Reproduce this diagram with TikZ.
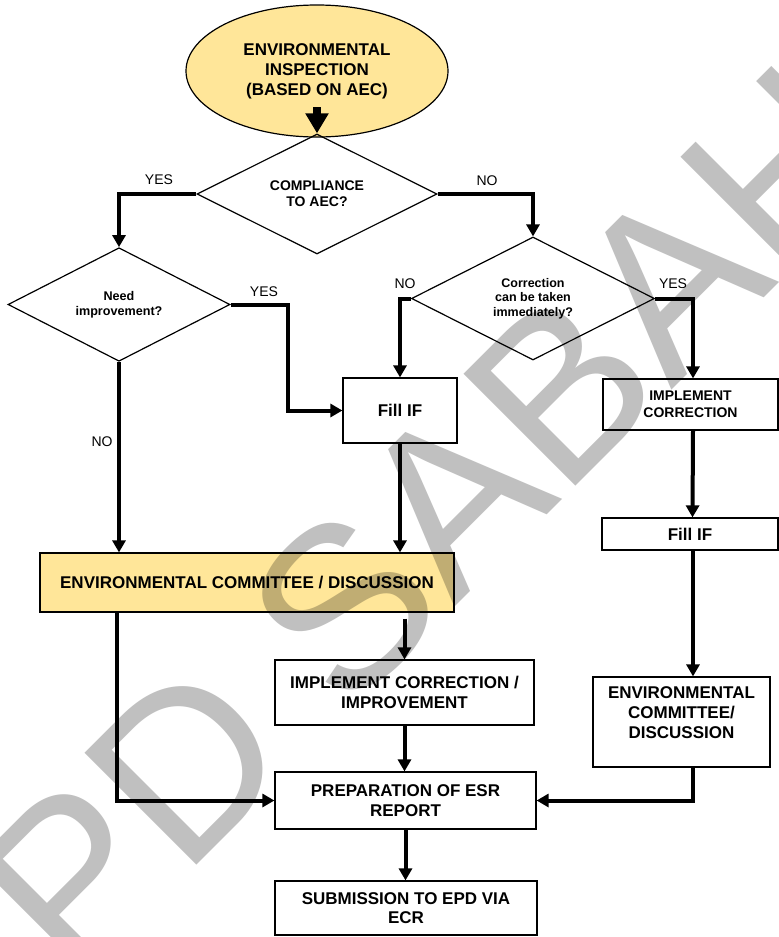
\documentclass[tikz,border=0pt]{standalone}
\usepackage{fontspec}
\setmainfont{Liberation Sans}
\usetikzlibrary{shapes.geometric,arrows.meta}
\definecolor{ylw}{HTML}{FFE699}
\definecolor{wmk}{HTML}{C0C0C0}
\begin{document}
\begin{tikzpicture}[x=1pt,y=-1pt,
  boxst/.style={draw, line width=1.2pt, rectangle, inner sep=0pt, align=center,
    font=\bfseries\fontsize{17}{19.5}\selectfont},
  diast/.style={draw, line width=1.2pt, diamond, inner sep=0pt, align=center},
  conn/.style={line width=4pt, -{Triangle[length=12pt,width=13pt]}},
  lbl/.style={font=\fontsize{14}{16}\selectfont, inner sep=0pt}]
\useasboundingbox (0,0) rectangle (779,937);
\fill[white] (0,0) rectangle (779,937);

% shapes
\node[draw, ellipse, line width=1.2pt, fill=ylw, minimum width=262, minimum height=132,
  inner sep=0pt, align=center, font=\bfseries\fontsize{17}{20}\selectfont] (ell) at (317,71)
  {ENVIRONMENTAL\\INSPECTION\\(BASED ON AEC)};
\node[diast, minimum width=240, minimum height=91, font=\bfseries\fontsize{14}{16}\selectfont]
  (dia1) at (317,194) {COMPLIANCE\\TO AEC?};
\node[diast, minimum width=222, minimum height=109, font=\bfseries\fontsize{12.6}{15}\selectfont]
  (dia2) at (119,304.5) {Need\\improvement?};
\node[diast, minimum width=243, minimum height=123, font=\bfseries\fontsize{12.5}{14.5}\selectfont]
  (dia3) at (533,298.5) {Correction\\can be taken\\immediately?};
\node[boxst, minimum width=114, minimum height=65] (fill1) at (400,410.5) {Fill IF};
\node[boxst, minimum width=175, minimum height=51, font=\bfseries\fontsize{14}{17}\selectfont]
  (impl) at (690.5,404.5) {IMPLEMENT\\CORRECTION};
\node[boxst, minimum width=176, minimum height=32] (fill2) at (690,534) {Fill IF};
\node[boxst, minimum width=177, minimum height=90] (ecdb) at (681.5,722) {};
\node[font=\bfseries\fontsize{17}{20}\selectfont, align=center, inner sep=0pt] (ecdt) at (681.5,713)
  {ENVIRONMENTAL\\COMMITTEE/\\DISCUSSION};
\node[boxst, fill=ylw, minimum width=414, minimum height=59] (ecd) at (247,582.5)
  {ENVIRONMENTAL COMMITTEE / DISCUSSION};
\node[boxst, minimum width=259, minimum height=65] (implc) at (404.5,692.5)
  {IMPLEMENT CORRECTION /\\IMPROVEMENT};
\node[boxst, minimum width=261, minimum height=57] (prep) at (405.5,800.5)
  {PREPARATION OF ESR\\REPORT};
\node[boxst, minimum width=262, minimum height=54] (sub) at (406,908)
  {SUBMISSION TO EPD VIA\\ECR};

% connectors
\draw[line width=8pt, -{Triangle[length=20pt,width=22pt]}] (317,107) -- (dia1.north);
\draw[conn] (dia1.west) -| (dia2.north);
\draw[conn] (dia1.east) -| (dia3.north);
\draw[conn] (dia2.east) -- ++(57,0) |- (fill1.west);
\draw[conn] (dia2.south) -- (dia2.south |- ecd.north);
\draw[conn] (dia3.west) -| (fill1.north);
\draw[conn] (dia3.east) -| ([xshift=2.5pt]impl.north);
\draw[conn] ([xshift=2.5pt]impl.south) -- ([xshift=2.5pt]fill2.north);
\draw[conn] ([xshift=3pt]fill2.south) -- ([xshift=3pt]fill2.south |- ecdb.north);
\draw[conn] ([xshift=3pt]fill2.south |- ecdb.south) |- (prep.east);
\draw[conn] (fill1.south) -- (fill1.south |- ecd.north);
\draw[conn, shorten <=6pt] (ecd.south -| implc.north) -- (implc.north);
\draw[conn] (ecd.south -| 117,0) |- (prep.west);
\draw[conn] (implc.south) -- (implc.south |- prep.north);
\draw[conn] (prep.south) -- (prep.south |- sub.north);

% labels
\node[lbl] (l1) at (159,180) {YES};
\node[lbl] (l2) at (487,181) {NO};
\node[lbl] (l3) at (264,292) {YES};
\node[lbl] (l4) at (102,442) {NO};
\node[lbl] (l5) at (405,284) {NO};
\node[lbl] (l6) at (673,284) {YES};

% watermark
\begin{scope}[blend mode=multiply]
\node[rotate=45, anchor=base, inner sep=0pt, text=wmk, font=\fontsize{230}{230}\selectfont]
  (wm) at (486,576) {PD SABAH};
\end{scope}
\end{tikzpicture}
\end{document}
